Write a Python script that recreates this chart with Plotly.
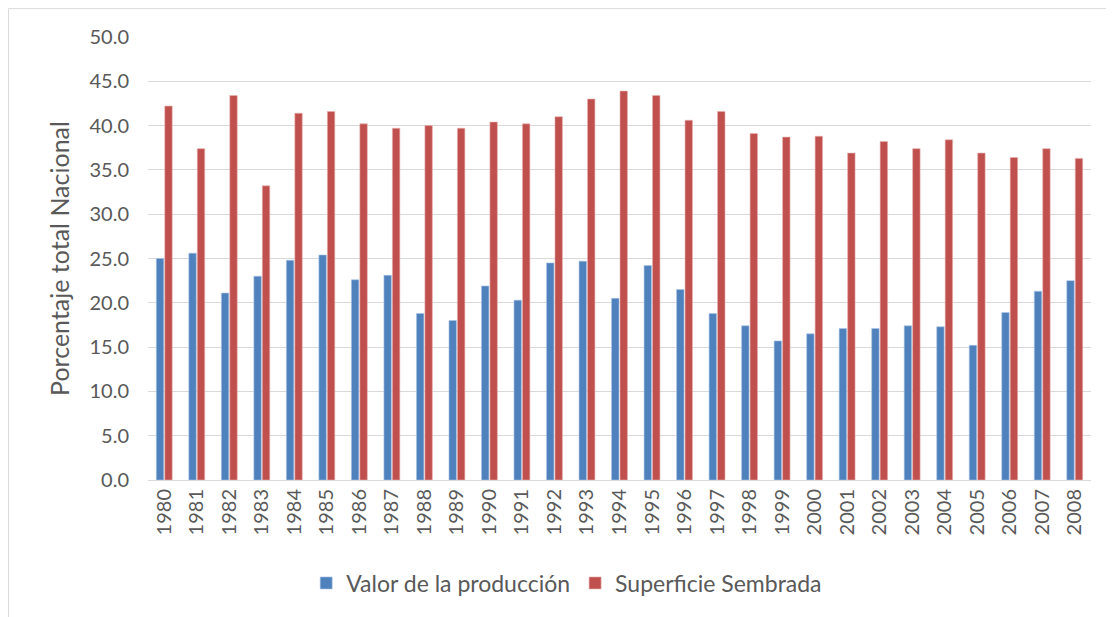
import plotly.graph_objects as go

years = [str(y) for y in range(1980, 2009)]
valor_produccion = [25.0, 25.6, 21.1, 23.0, 24.8, 25.4, 22.6, 23.1, 18.8, 18.0,
                    21.9, 20.3, 24.5, 24.7, 20.5, 24.2, 21.5, 18.8, 17.4, 15.7,
                    16.5, 17.1, 17.1, 17.4, 17.3, 15.2, 18.9, 21.3, 22.5]
superficie_sembrada = [42.2, 37.4, 43.4, 33.2, 41.4, 41.6, 40.2, 39.7, 40.0, 39.7,
                       40.4, 40.2, 41.0, 43.0, 43.9, 43.4, 40.6, 41.6, 39.1, 38.7,
                       38.8, 36.9, 38.2, 37.4, 38.4, 36.9, 36.4, 37.4, 36.3]
y_ticks = [0, 5, 10, 15, 20, 25, 30, 35, 40, 45, 50]

font_family = "Lato, 'Open Sans', sans-serif"

fig = go.Figure()
fig.add_trace(go.Bar(x=years, y=valor_produccion, name="Valor de la producción",
                     marker=dict(color="#4f81bd", line=dict(color="#a9c4e6", width=0.6))))
fig.add_trace(go.Bar(x=years, y=superficie_sembrada, name="Superficie Sembrada",
                     marker=dict(color="#c0504d", line=dict(color="#e6b0ae", width=0.6))))

# the page adds an 8px body margin, so the figure is a little smaller than the window
fig.update_layout(
    width=1106, height=609,
    margin=dict(l=140, r=23, t=29, b=137),
    paper_bgcolor="white", plot_bgcolor="white",
    barmode="group", bargap=0.48, bargroupgap=0.12,
    font=dict(family=font_family, color="#595959", size=20),
    xaxis=dict(type="category", tickangle=-90, showgrid=False, automargin=False,
               showline=True, linecolor="#d9d9d9", linewidth=1,
               ticks="", tickfont=dict(size=20)),
    yaxis=dict(range=[0, 50], tickvals=y_ticks, tickformat=".1f", automargin=False,
               showgrid=True, gridcolor="#d9d9d9", gridwidth=1,
               zeroline=False, ticks="", tickfont=dict(size=20),
               ticklabelstandoff=18,
               title=dict(text="Porcentaje total Nacional", font=dict(size=25), standoff=12)),
    legend=dict(orientation="h", x=0.444, xanchor="center", y=-0.2325, yanchor="middle",
                font=dict(size=23), itemwidth=30, traceorder="normal"),
    shapes=[dict(type="rect", xref="paper", yref="paper",
                 x0=-0.148, x1=1.023, y0=-0.35, y1=1.064,
                 line=dict(color="#d9d9d9", width=1))],
)

fig.write_html("out.html")
